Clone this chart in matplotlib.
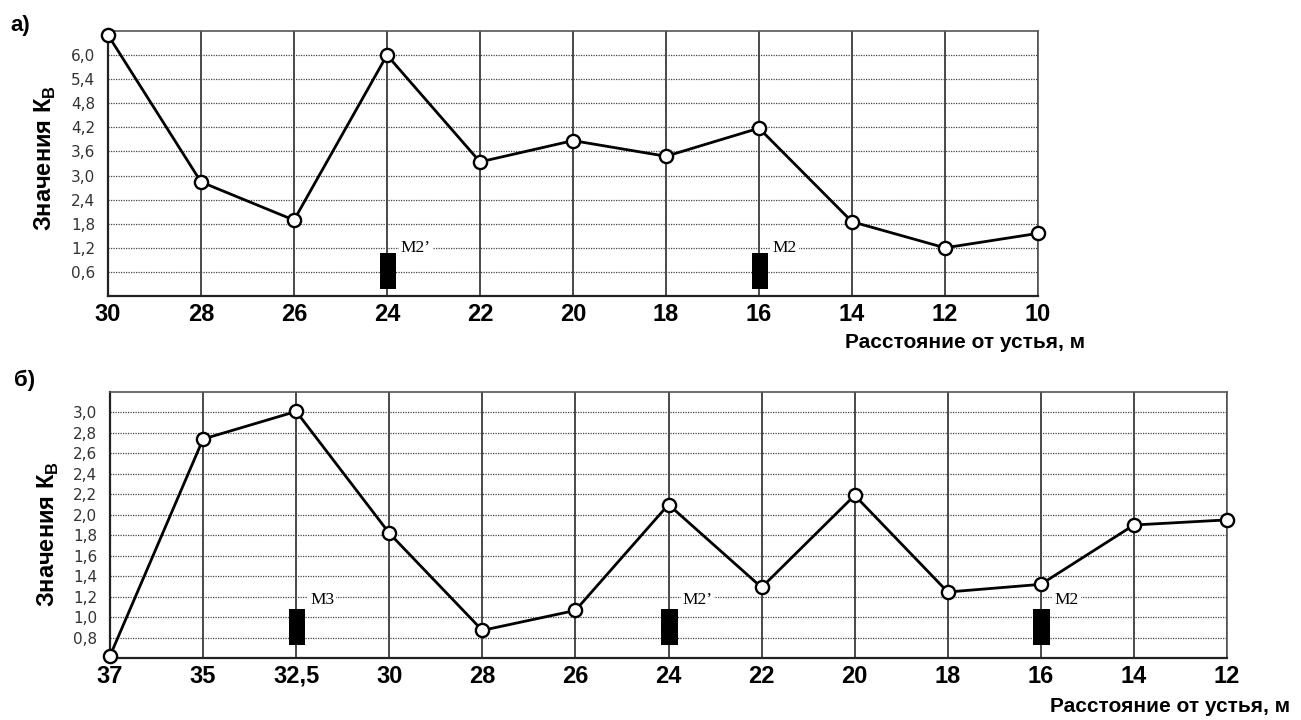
import matplotlib

matplotlib.use("Agg")

import matplotlib.pyplot as plt
import numpy as np

plt.rcParams["font.family"] = ["Liberation Sans", "DejaVu Sans"]
plt.rcParams["mathtext.fontset"] = "custom"
plt.rcParams["mathtext.rm"] = "Liberation Sans"
plt.rcParams["mathtext.bf"] = "Liberation Sans:bold"

# panel a)
top_distances = ["30", "28", "26", "24", "22", "20", "18", "16", "14", "12", "10"]
top_kv = [6.5, 2.84, 1.89, 6.0, 3.34, 3.87, 3.48, 4.18, 1.85, 1.2, 1.56]
top_yticks = [0.6, 1.2, 1.8, 2.4, 3.0, 3.6, 4.2, 4.8, 5.4, 6.0]
top_mark_names = ["M2\u2019", "M2"]
top_mark_at = ["24", "16"]
top_mark_low, top_mark_high = 0.18, 1.08
top_mark_label_y = 1.2

# panel б)
bot_distances = ["37", "35", "32,5", "30", "28", "26", "24", "22", "20", "18", "16", "14", "12"]
bot_kv = [0.62, 2.74, 3.01, 1.82, 0.87, 1.065, 2.10, 1.29, 2.19, 1.245, 1.32, 1.90, 1.95]
bot_yticks = [0.8, 1.0, 1.2, 1.4, 1.6, 1.8, 2.0, 2.2, 2.4, 2.6, 2.8, 3.0]
bot_mark_names = ["M3", "M2\u2019", "M2"]
bot_mark_at = ["32,5", "24", "16"]
bot_mark_low, bot_mark_high = 0.73, 1.08
bot_mark_label_y = 1.17

W, H = 1301, 720


def _draw_panel(ax, labels, values, yticks, ylim, mark_names, mark_at, low, high, label_y):
    x = np.arange(len(labels))
    ax.set_xlim(0, len(labels) - 1)
    ax.set_ylim(*ylim)

    ax.set_xticks(x)
    ax.set_xticklabels(labels, fontsize=17, fontweight="bold")
    ax.set_yticks(yticks)
    ax.set_yticklabels([f"{t:.1f}".replace(".", ",") for t in yticks],
                       fontsize=11, color="#333333", family="DejaVu Sans")
    ax.tick_params(axis="both", length=0)
    ax.tick_params(axis="x", pad=5)
    ax.tick_params(axis="y", pad=9)

    ax.xaxis.grid(True, color="#3a3a3a", linewidth=1.3, linestyle="-")
    ax.yaxis.grid(True, color="#444444", linewidth=0.9, linestyle=(0, (1, 1)))
    ax.set_axisbelow(True)

    for side in ("left", "bottom"):
        ax.spines[side].set_color("#222222")
        ax.spines[side].set_linewidth(1.6)
    for side in ("top", "right"):
        ax.spines[side].set_color("#555555")
        ax.spines[side].set_linewidth(1.2)

    pos = {lab: i for i, lab in enumerate(labels)}
    for name, at in zip(mark_names, mark_at):
        xi = pos[at]
        ax.bar(xi + 0.01, high - low, bottom=low, width=0.18, color="black", zorder=3)
        ax.text(xi + 0.15, label_y, name, ha="left", va="center", fontsize=12.5,
                family="Liberation Serif", zorder=4,
                bbox=dict(boxstyle="square,pad=0.1", fc="white", ec="none"))

    ax.plot(x, values, color="black", linewidth=2.0, marker="o", markersize=9.5,
            markerfacecolor="white", markeredgecolor="black", markeredgewidth=1.7,
            zorder=5, clip_on=False)


fig = plt.figure(figsize=(W / 100, H / 100), dpi=100)

ax_top = fig.add_axes([108 / W, 1 - 296 / H, (1038 - 108) / W, (296 - 31) / H])
_draw_panel(ax_top, top_distances, top_kv, top_yticks, (0, 6.6),
            top_mark_names, top_mark_at, top_mark_low, top_mark_high, top_mark_label_y)

ax_bot = fig.add_axes([110 / W, 1 - 658 / H, (1227 - 110) / W, (658 - 392) / H])
_draw_panel(ax_bot, bot_distances, bot_kv, bot_yticks, (0.6, 3.2),
            bot_mark_names, bot_mark_at, bot_mark_low, bot_mark_high, bot_mark_label_y)

ylabel = r"Значения К$_\mathbf{В}$"
fig.text(45 / W, 1 - 158 / H, ylabel, rotation=90, ha="center", va="center",
         fontsize=17, fontweight="bold")
fig.text(48 / W, 1 - 534 / H, ylabel, rotation=90, ha="center", va="center",
         fontsize=17, fontweight="bold")

xlabel = "Расстояние от устья, м"
fig.text(1085 / W, 1 - 343 / H, xlabel, ha="right", va="center", fontsize=15, fontweight="bold")
fig.text(1290 / W, 1 - 706 / H, xlabel, ha="right", va="center", fontsize=15, fontweight="bold")

fig.text(20 / W, 1 - 25 / H, "а)", ha="center", va="center", fontsize=16, fontweight="bold")
fig.text(25 / W, 1 - 380 / H, "б)", ha="center", va="center", fontsize=16, fontweight="bold")

fig.savefig("out.png", dpi=100)
plt.close(fig)
